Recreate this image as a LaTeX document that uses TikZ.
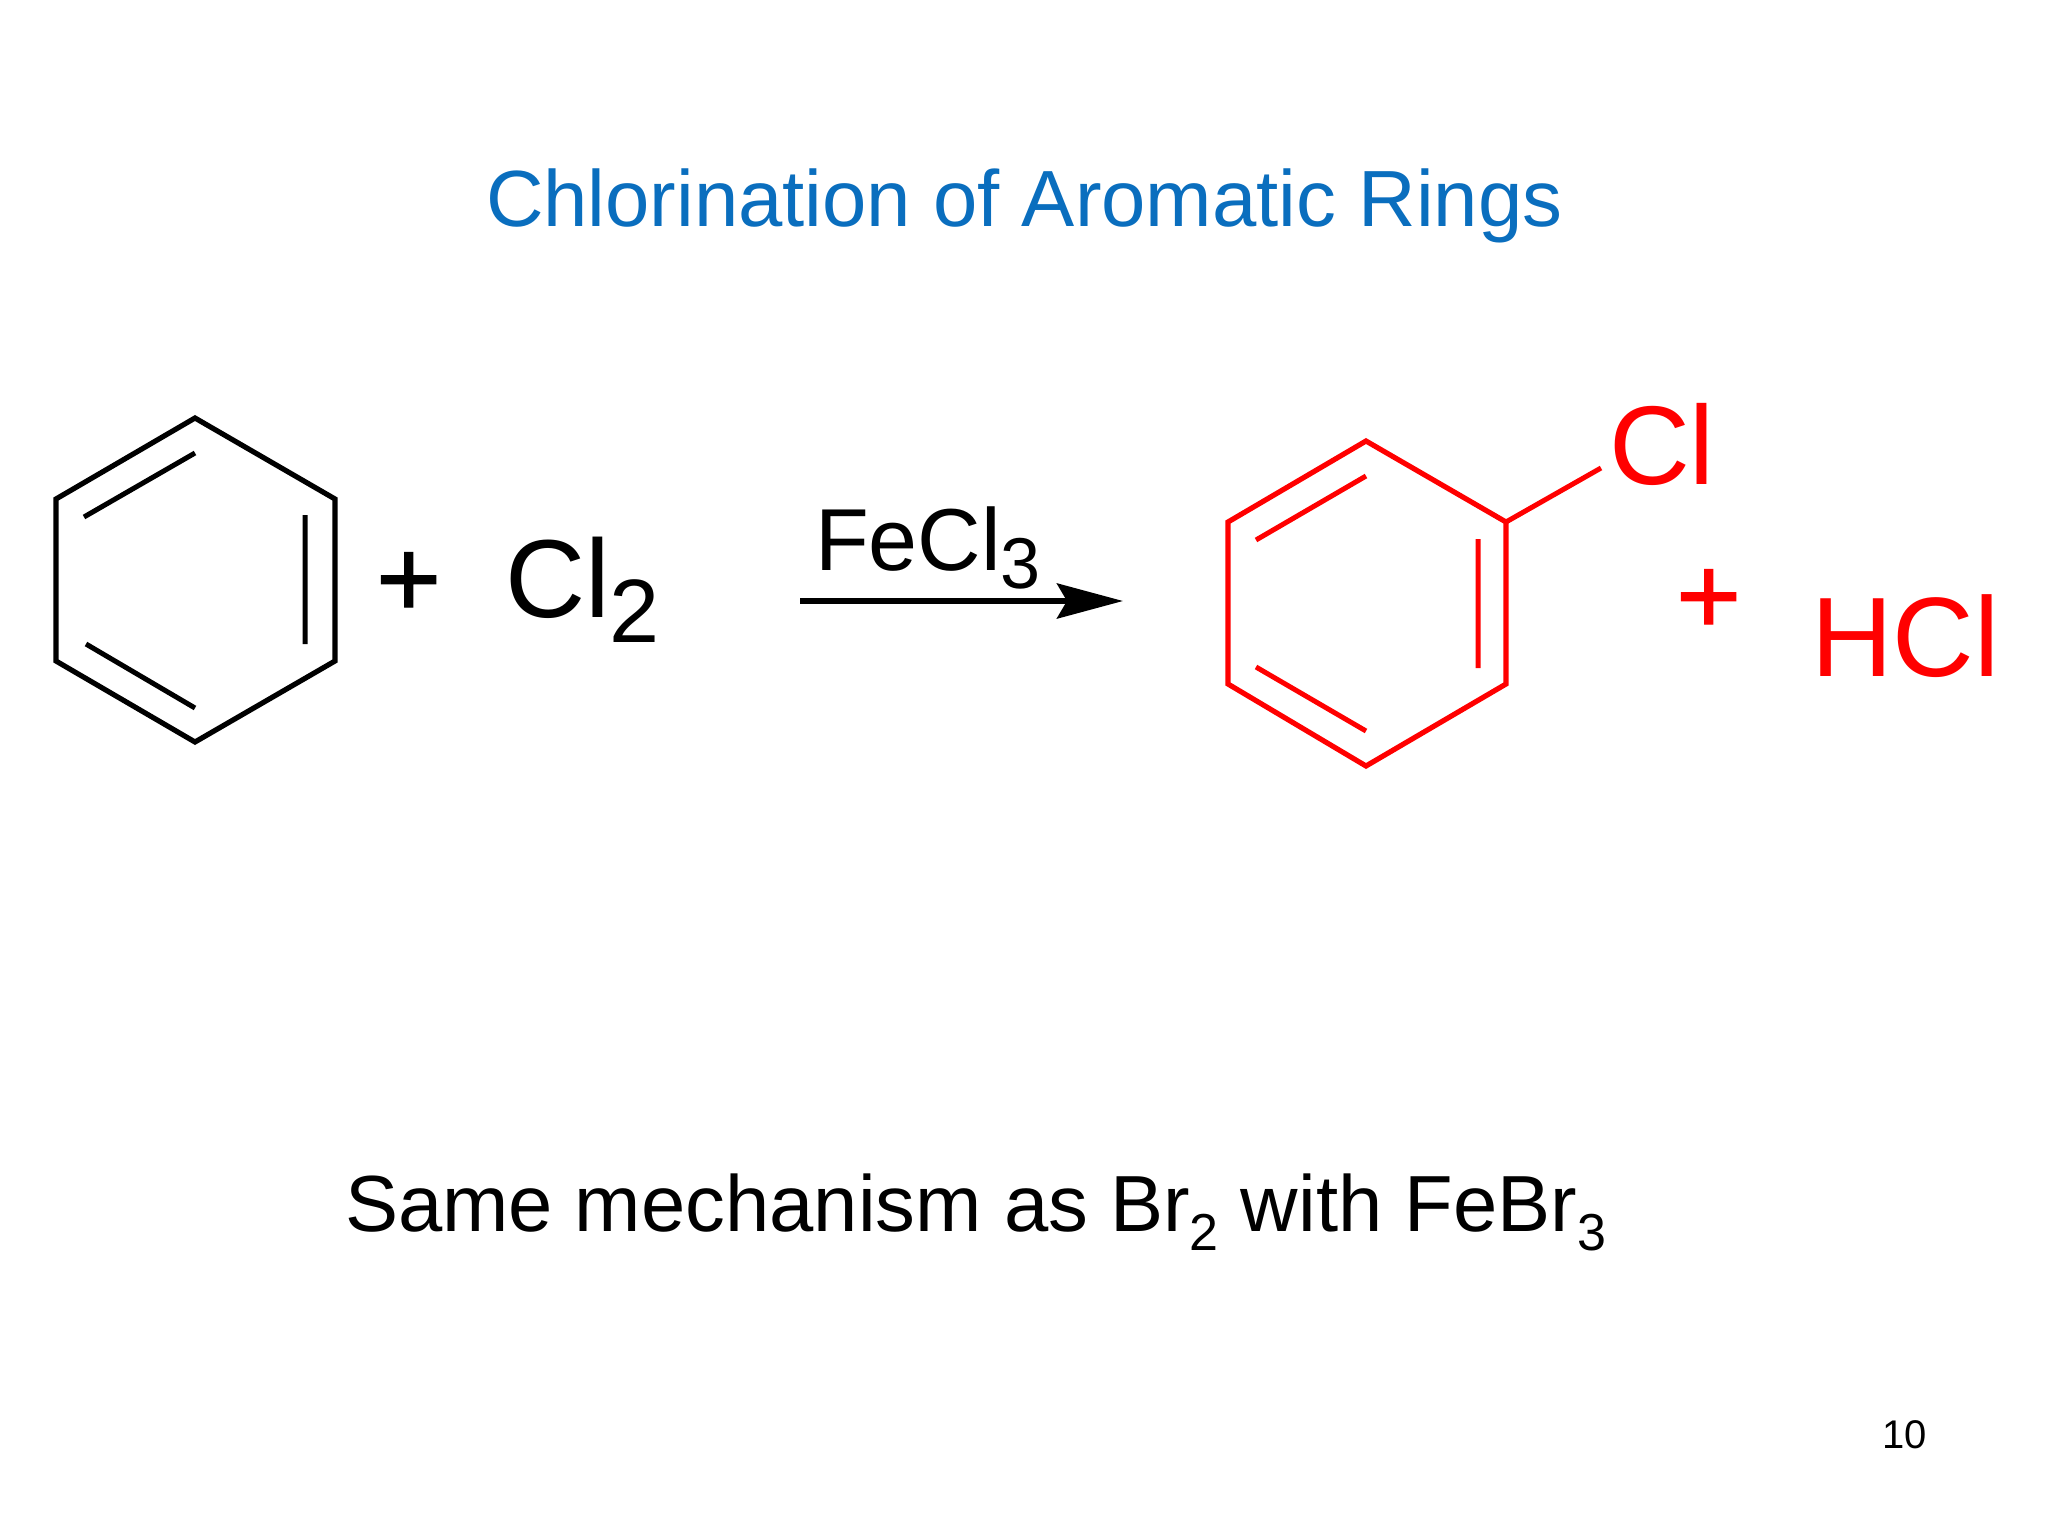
\documentclass[tikz,border=0pt]{standalone}
\usepackage{fontspec}
\setmainfont{Liberation Sans}
\newfontfamily\boldplus[FakeBold=1]{Liberation Sans}
\usetikzlibrary{arrows.meta}
\definecolor{titleblue}{RGB}{10,110,190}
\newcommand{\fsz}[1]{\fontsize{#1}{#1}\selectfont}
\newcommand{\subdrop}[3]{\raisebox{-#2pt}{\fsz{#1}#3}}
\tikzset{
  x=1pt,y=-1pt,
  lbl/.style={inner sep=0pt,outer sep=0pt,anchor=base west},
  ring/.style={line width=5.2pt,line join=miter},
  inner/.style={line width=5pt},
}
\begin{document}
\begin{tikzpicture}
\useasboundingbox[fill=white] (0,0) rectangle (2048,1536);
% title
\node[lbl,text=titleblue] (title) at (486,226) {\fsz{79.7}Chlorination of Aromatic Rings};
% left ring
\coordinate (a1) at (195,418);
\coordinate (a2) at (335,499);
\coordinate (a3) at (335,661);
\coordinate (a4) at (195,742);
\coordinate (a5) at (56,661);
\coordinate (a6) at (56,499);
\draw[ring] (a1)--(a2)--(a3)--(a4)--(a5)--(a6)--cycle;
\coordinate (a7) at (84,517);
\coordinate (a8) at (195,453);
\coordinate (a9) at (305,515);
\coordinate (a10) at (305,644);
\coordinate (a11) at (86,644);
\coordinate (a12) at (195,708);
\draw[inner] (a7)--(a8) (a9)--(a10) (a11)--(a12);
\node[lbl] (plus1) at (376,617) {\boldplus\fsz{112}+};
\node[lbl] (cl2) at (505,617) {\fsz{111}Cl\subdrop{90}{25}{2}};
\node[lbl] (fecl3) at (815,570) {\fsz{88}FeCl\subdrop{72}{18}{3}};
% arrow
\coordinate (s) at (800,601);
\coordinate (t) at (1123,601);
\draw[line width=6pt,-{Stealth[length=66pt,width=35pt,inset=10pt]}] (s)--(t);
% right ring
\begin{scope}[red]
\coordinate (b1) at (1366,441);
\coordinate (b2) at (1506,522);
\coordinate (b3) at (1506,684);
\coordinate (b4) at (1366,766);
\coordinate (b5) at (1228,684);
\coordinate (b6) at (1228,522);
\draw[ring,red] (b1)--(b2)--(b3)--(b4)--(b5)--(b6)--cycle;
\coordinate (b7) at (1256,540);
\coordinate (b8) at (1366,476);
\coordinate (b9) at (1478,539);
\coordinate (b10) at (1478,668);
\coordinate (b11) at (1256,667);
\coordinate (b12) at (1366,731);
\draw[inner,red] (b7)--(b8) (b9)--(b10) (b11)--(b12);
\coordinate (b13) at (1601,468);
\draw[inner,red] (b2)--(b13);
\node[lbl,text=red] (cl) at (1609,484) {\fsz{112}Cl};
\node[lbl,text=red] (plus2) at (1676,634) {\boldplus\fsz{112}+};
\node[lbl,text=red] (hcl) at (1811,676) {\fsz{113}HCl};
\end{scope}
\node[lbl] (same) at (345,1231) {\fsz{79.6}Same mechanism as Br\subdrop{52}{19}{2} with FeBr\subdrop{52}{19}{3}};
\node[lbl] (page) at (1882,1448) {\fsz{40}10};
\end{tikzpicture}
\end{document}
